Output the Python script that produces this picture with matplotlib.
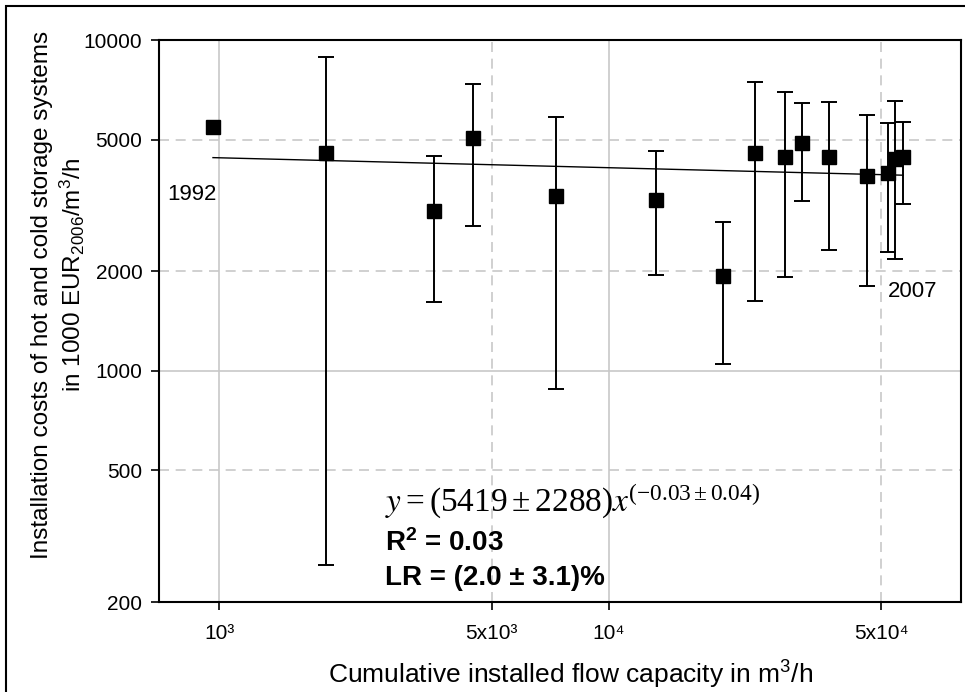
import matplotlib
matplotlib.use("Agg")
import matplotlib.pyplot as plt
import numpy as np
from matplotlib.patches import Rectangle

plt.rcParams["font.family"] = ["Liberation Sans", "DejaVu Sans"]
plt.rcParams["mathtext.fontset"] = "custom"
plt.rcParams["mathtext.rm"] = "Liberation Sans"
plt.rcParams["mathtext.it"] = "Liberation Sans:italic"
plt.rcParams["mathtext.bf"] = "Liberation Sans:bold"
plt.rcParams["mathtext.default"] = "regular"

# cumulative installed flow capacity (m3/h) and installation costs (1000 EUR2006 per m3/h)
capacity = [963, 1880, 3562, 4483, 7300, 13190, 19625, 23660, 28240,
            31270, 36730, 45810, 51840, 54100, 56840]
cost = [5449, 4565, 3044, 5069, 3373, 3286, 1936, 4546, 4442,
        4875, 4419, 3890, 3962, 4358, 4442]
cost_upper = [np.nan, 8885, 4463, 7379, 5853, 4622, 2818, 7465, 6950,
              6465, 6496, 5952, 5625, 6541, 5651]
cost_lower = [np.nan, 258, 1616, 2748, 880, 1946, 1047, 1627, 1919,
              3270, 2321, 1810, 2289, 2175, 3200]

# fitted experience curve y = a * x^b
fit_a = 5419
fit_b = -0.03

x_ticks = [1e3, 5e3, 1e4, 5e4]
x_tick_labels = ["10³", "5x10³", "10⁴", "5x10⁴"]
y_ticks = [200, 500, 1000, 2000, 5000, 10000]

fig = plt.figure(figsize=(9.65, 6.92), dpi=100)
ax = fig.add_axes([159 / 965, 1 - 602 / 692, 802 / 965, 562 / 692])
ax.set_xscale("log")
ax.set_yscale("log")
ax.set_xlim(700, 80000)
ax.set_ylim(200, 10000)

grid_col = "#c8c8c8"
for xv in x_ticks:
    ls = "-" if xv in (1e3, 1e4) else (0, (6, 4))
    ax.axvline(xv, color=grid_col, lw=1.2, ls=ls, zorder=0)
for yv in [500, 1000, 2000, 5000]:
    ls = "-" if yv == 1000 else (0, (6, 4))
    ax.axhline(yv, color=grid_col, lw=1.2, ls=ls, zorder=0)

x = np.array(capacity, dtype=float)
y = np.array(cost, dtype=float)
up = np.array(cost_upper, dtype=float)
lo = np.array(cost_lower, dtype=float)
has_err = ~np.isnan(up)

ax.errorbar(x[has_err], y[has_err],
            yerr=[y[has_err] - lo[has_err], up[has_err] - y[has_err]],
            fmt="none", ecolor="black", elinewidth=1.4, capsize=6, capthick=1.4, zorder=2)

xf = np.geomspace(x.min(), x.max(), 100)
ax.plot(xf, fit_a * xf ** fit_b, color="black", lw=1.0, zorder=3)

ax.plot(x, y, "s", color="black", markersize=10, zorder=4)

ax.text(x[0] * 1.02, 3400, "1992", ha="right", va="center", fontsize=16)
ax.text(x[12], 1735, "2007", ha="left", va="center", fontsize=16)

ax.set_xticks(x_ticks)
ax.set_xticklabels(x_tick_labels)
ax.set_yticks(y_ticks)
ax.set_yticklabels([str(v) for v in y_ticks])
ax.minorticks_off()
ax.tick_params(axis="both", direction="out", length=6, width=1.2, labelsize=15)
ax.tick_params(axis="x", pad=10)
ax.tick_params(axis="y", pad=6)
for sp in ax.spines.values():
    sp.set_linewidth(1.5)

ax.text(0.282, 0.178,
        r"$\mathit{y} = (5419 \pm 2288)\mathit{x}^{(-0.03 \pm 0.04)}$",
        transform=ax.transAxes, fontsize=24, family="Liberation Serif",
        math_fontfamily="stix", va="center", ha="left")
ax.text(0.282, 0.105, r"R$^{\mathbf{2}}$ = 0.03", transform=ax.transAxes,
        fontsize=20, fontweight="bold", va="center", ha="left")
ax.text(0.282, 0.043, "LR = (2.0 ± 3.1)%", transform=ax.transAxes,
        fontsize=20, fontweight="bold", va="center", ha="left")

fig.text(42 / 965, 1 - 295 / 692, "Installation costs of hot and cold storage systems",
         rotation=90, ha="center", va="center", fontsize=17.5)
fig.text(72 / 965, 1 - 275 / 692, r"in 1000 EUR$_{2006}$/m$^{3}$/h",
         rotation=90, ha="center", va="center", fontsize=17.5)
fig.text(571 / 965, 1 - 675 / 692, r"Cumulative installed flow capacity in m$^{3}$/h",
         ha="center", va="center", fontsize=19)

fig.patches.append(Rectangle((6 / 965, -0.05), 1.1, 1 - 6 / 692 + 0.05,
                             transform=fig.transFigure, fill=False,
                             edgecolor="black", lw=1.5))

fig.savefig("out.png", dpi=100)
